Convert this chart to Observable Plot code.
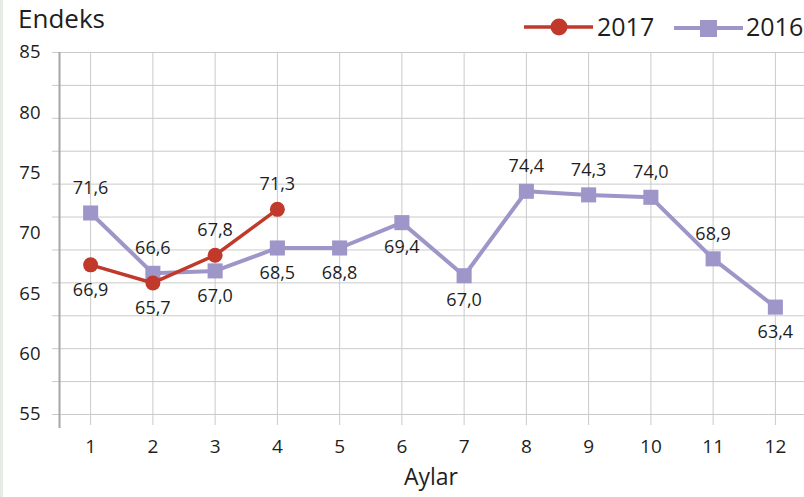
<!DOCTYPE html>
<html>
<head>
<meta charset="utf-8">
<script src="https://cdn.jsdelivr.net/npm/d3@7"></script>
<script src="https://cdn.jsdelivr.net/npm/@observablehq/plot@0.6"></script>
<style>
  html, body { margin: 0; padding: 0; background: #ffffff; }
  #wrap { position: relative; width: 804px; height: 497px; overflow: hidden; font-family: "Open Sans", sans-serif; }
  #strip { position: absolute; left: 0; top: 0; width: 3px; height: 497px; background: #e6ebe6; }
  #overlay { position: absolute; left: 0; top: 0; pointer-events: none; }
</style>
</head>
<body>
<div id="wrap"><div id="strip"></div></div>
<script>
// ---- data ----
const months = [1, 2, 3, 4, 5, 6, 7, 8, 9, 10, 11, 12];
const values2016 = [71.7, 66.7, 66.9, 68.8, 68.8, 70.9, 66.5, 73.5, 73.2, 73.0, 67.9, 63.9];
const labels2016 = ["71,6", "66,6", "67,0", "68,5", "68,8", "69,4", "67,0", "74,4", "74,3", "74,0", "68,9", "63,4"];
const side2016 = ["above", "above", "below", "below", "below", "below", "below", "above", "above", "above", "above", "below"];
const months2017 = [1, 2, 3, 4];
const values2017 = [67.4, 65.9, 68.2, 72.0];
const labels2017 = ["66,9", "65,7", "67,8", "71,3"];
const side2017 = ["below", "below", "above", "above"];
const yTickLabels = [55, 60, 65, 70, 75, 80, 85];
const seriesNames = ["2017", "2016"];
const titleText = "Endeks";
const xTitle = "Aylar";

// ---- styles ----
const c2016 = "#9e96c8";
const c2017 = "#c0392b";
const gridColor = "#cacaca";
const textColor = "#1e1e1e";

const d2016 = months.map((m, i) => ({month: m, value: values2016[i], label: labels2016[i], side: side2016[i]}));
const d2017 = months2017.map((m, i) => ({month: m, value: values2017[i], label: labels2017[i], side: side2017[i]}));
const allLabels = d2016.concat(d2017);
const gridVals = d3.range(12).map(i => 55 + i * 30 / 11);

const chart = Plot.plot({
  width: 804,
  height: 497,
  marginTop: 52,
  marginBottom: 83,
  marginLeft: 59,
  marginRight: -2,
  style: {fontFamily: "Open Sans", background: "transparent", overflow: "visible"},
  x: {domain: [0.5, 12.5]},
  y: {domain: [55, 85]},
  marks: [
    Plot.gridY(gridVals, {stroke: gridColor, strokeOpacity: 1, strokeWidth: 1}),
    Plot.gridX(months, {stroke: gridColor, strokeOpacity: 1, strokeWidth: 1}),
    Plot.axisY(gridVals, {tickSize: 7, tickFormat: () => "", stroke: gridColor, strokeOpacity: 1, label: null}),
    Plot.axisY(yTickLabels, {tickSize: 0, tickPadding: 19, fontSize: 18.5, fill: textColor, label: null}),
    Plot.axisX(months, {tickSize: 11, tickPadding: 14, fontSize: 19, stroke: gridColor, strokeOpacity: 1, fill: textColor, label: null}),
    Plot.ruleX([0.5], {stroke: "#a6a6a6", strokeWidth: 2, insetBottom: -14}),
    Plot.line(d2016, {x: "month", y: "value", stroke: c2016, strokeWidth: 4}),
    Plot.dot(d2016, {x: "month", y: "value", symbol: "square", r: 8.5, fill: c2016, stroke: "none"}),
    Plot.line(d2017, {x: "month", y: "value", stroke: c2017, strokeWidth: 3.5}),
    Plot.dot(d2017, {x: "month", y: "value", symbol: "circle", r: 7.5, fill: c2017, stroke: "none"}),
    Plot.text(allLabels.filter(d => d.side === "above"), {x: "month", y: "value", text: "label", dy: -25, fontSize: 18, fill: textColor}),
    Plot.text(allLabels.filter(d => d.side === "below"), {x: "month", y: "value", text: "label", dy: 25, fontSize: 18, fill: textColor})
  ]
});
document.getElementById("wrap").appendChild(chart);

// ---- header & axis title overlay ----
const svg = d3.select("#wrap").append("svg")
  .attr("id", "overlay").attr("width", 804).attr("height", 497)
  .style("font-family", "Open Sans");

svg.append("text").attr("x", 18).attr("y", 28)
  .attr("font-size", 26).attr("fill", textColor).text(titleText);

svg.append("text").attr("x", 431).attr("y", 485).attr("text-anchor", "middle")
  .attr("font-size", 23).attr("fill", textColor).text(xTitle);

// legend 2017
svg.append("line").attr("x1", 524).attr("x2", 593).attr("y1", 27).attr("y2", 27)
  .attr("stroke", c2017).attr("stroke-width", 3.5);
svg.append("circle").attr("cx", 559).attr("cy", 27).attr("r", 8.5).attr("fill", c2017);
svg.append("text").attr("x", 597).attr("y", 36).attr("font-size", 25).attr("fill", textColor).text(seriesNames[0]);
// legend 2016
svg.append("line").attr("x1", 674).attr("x2", 743).attr("y1", 28).attr("y2", 28)
  .attr("stroke", c2016).attr("stroke-width", 4);
svg.append("rect").attr("x", 700).attr("y", 20).attr("width", 17).attr("height", 17).attr("fill", c2016);
svg.append("text").attr("x", 746).attr("y", 36).attr("font-size", 25).attr("fill", textColor).text(seriesNames[1]);
</script>
</body>
</html>
